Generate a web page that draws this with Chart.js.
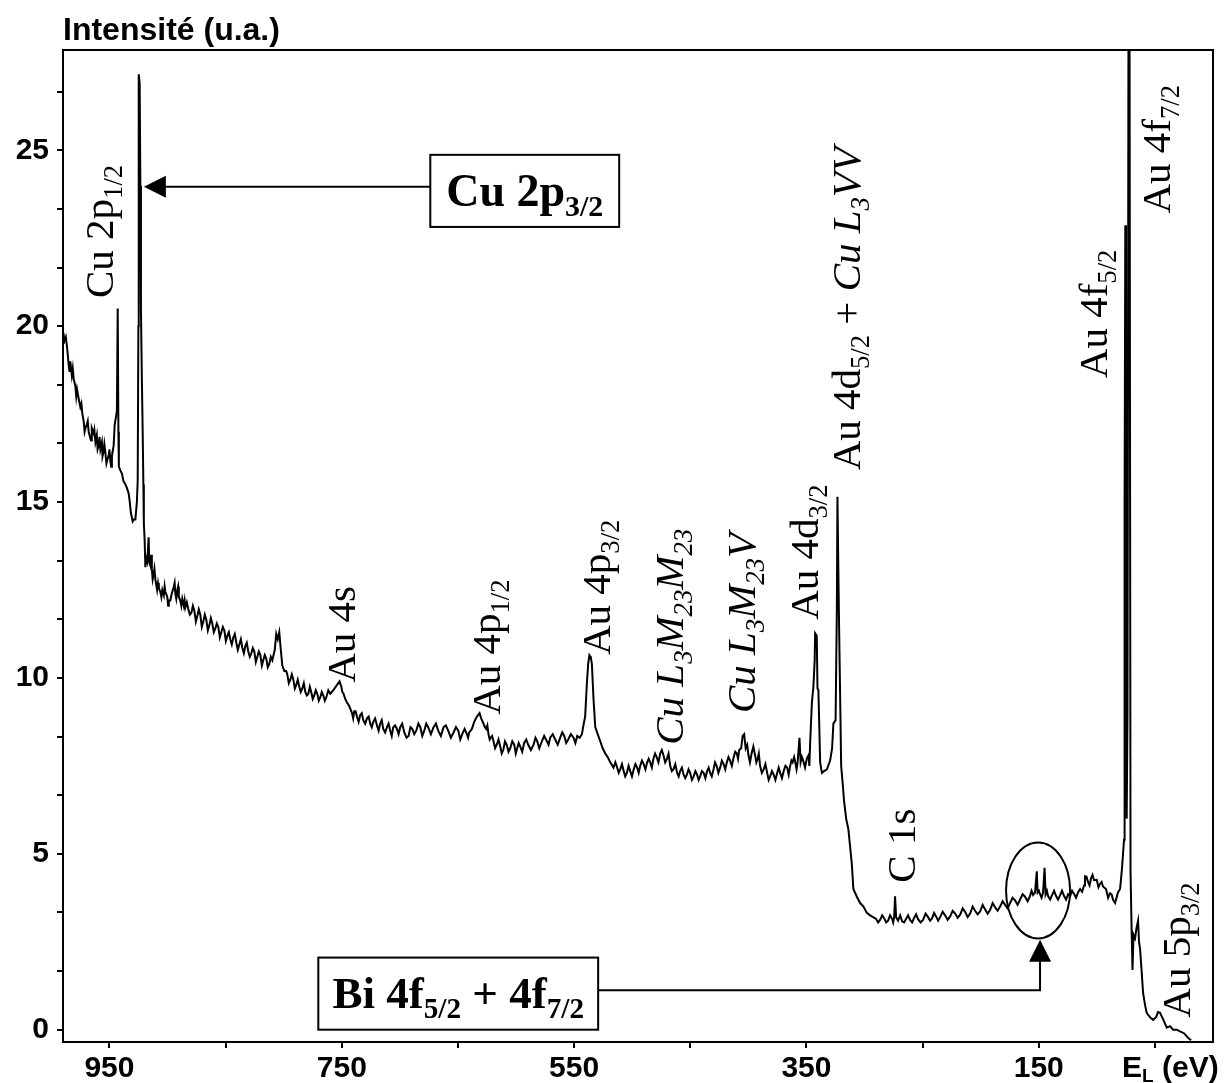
<!DOCTYPE html>
<html>
<head>
<meta charset="utf-8">
<script src="https://cdn.jsdelivr.net/npm/chart.js@4.4.1/dist/chart.umd.min.js"></script>
<style>
  html, body { margin: 0; padding: 0; background: #fff; }
  canvas { display: block; }
</style>
</head>
<body>
<canvas id="xps" width="1224" height="1083"></canvas>
<script>
// spectre XPS : énergie de liaison (eV) / intensité (u.a.)
const energies = [
  990.0, 988.8, 986.5, 985.1, 983.7, 982.4, 980.8, 979.4, 977.9, 976.3,
  975.1, 973.3, 972.2, 970.7, 969.5, 967.9, 966.4, 965.2, 963.6, 962.1,
  960.9, 959.3, 957.8, 956.5, 955.3, 953.5, 951.8, 950.5, 949.2, 947.9,
  946.4, 945.5, 944.5, 943.6, 942.9, 942.3, 941.9, 940.6, 939.2, 938.0,
  936.3, 935.0, 933.5, 932.5, 931.6, 930.0, 929.0, 927.7, 926.4, 925.7,
  925.1, 924.8, 924.0, 923.4, 922.9, 922.1, 921.4, 920.8, 920.4, 919.7,
  919.1, 918.3, 917.4, 916.3, 915.7, 914.8, 913.5, 912.2, 910.5, 909.0,
  907.5, 906.2, 904.5, 903.2, 901.9, 900.2, 898.9, 897.6, 895.9, 894.6,
  893.3, 891.6, 890.3, 889.0, 887.3, 886.0, 884.7,
  882.1, 879.5, 876.9, 874.4, 871.8, 869.2, 866.6, 864.0, 861.5, 858.9,
  856.3, 853.7, 851.1, 848.5, 846.0, 843.4, 840.8, 838.2, 835.6, 833.1,
  830.5, 827.9, 825.3, 822.7, 820.1, 817.6, 815.0, 812.4, 809.8, 807.7,
  806.4, 805.1, 803.8, 802.5, 801.2, 799.5, 796.9, 794.3, 791.7, 789.2,
  786.6, 784.0, 781.4, 778.8, 776.3, 773.7, 771.1, 768.5, 765.9, 763.3,
  759.9, 757.3, 754.1, 751.9, 750.4, 748.5, 745.5, 743.6, 741.2, 739.3,
  736.9, 734.1, 731.5, 728.3, 725.5, 722.9, 719.7, 716.9, 714.3, 711.1,
  708.3, 705.7, 702.5, 699.7, 696.2, 692.5, 689.3, 685.9, 682.4, 679.0,
  675.6, 671.0, 667.0, 662.4, 658.4, 653.8, 649.7, 646.3, 642.3, 640.3,
  638.0, 636.0, 633.7, 631.4, 630.0, 628.0, 625.7, 623.7, 621.8, 619.4,
  616.6, 613.6, 611.0, 608.0, 605.0, 601.5, 599.0, 596.4, 593.0, 589.5,
  584.9, 581.8, 578.3, 573.4, 570.6, 566.3, 562.0, 558.5, 555.1, 550.5,
  547.3, 545.2, 543.3, 541.7, 540.5, 539.0, 537.9, 536.8, 535.7, 534.7,
  533.3, 531.8, 529.7, 527.5, 525.4, 523.2, 521.1, 518.9, 516.1, 512.9,
  510.3, 507.3, 504.6, 501.7, 498.7, 495.7, 493.1, 490.1, 487.1, 484.5,
  481.7, 478.9, 475.9, 473.1, 470.1, 467.3, 464.5, 461.3, 458.7, 455.7,
  452.9, 450.1, 447.1, 444.1, 441.5, 438.5, 435.5, 432.9, 430.0, 427.3,
  424.3, 421.3, 418.5, 415.7, 412.6, 409.9, 407.9, 406.2, 404.9, 403.6,
  402.3, 399.9, 397.2, 394.2, 392.0, 389.9, 386.8, 383.8, 381.2, 378.2,
  375.2, 372.6, 369.6, 366.6, 364.0, 361.9, 360.6, 359.3, 357.6, 356.0,
  355.0, 352.8, 349.7, 346.8, 345.3, 344.0, 342.9, 342.5, 341.1, 340.5,
  339.7, 338.2, 336.7, 334.8, 332.4, 329.6, 327.9, 326.8, 324.9, 323.8,
  323.3, 322.5, 321.9, 321.0, 320.1, 318.8, 317.6, 315.8, 313.9, 312.4,
  310.9, 309.6, 306.6, 303.8, 300.9, 298.0, 295.2, 292.6, 290.0, 286.6,
  283.1, 279.7, 276.2, 274.5, 273.7, 272.8, 271.1, 267.6, 264.2, 260.8,
  257.3, 253.9, 249.6, 245.3, 241.8, 238.4, 234.9, 230.6, 226.3, 222.0,
  217.7, 213.4, 209.1, 204.8, 200.5, 196.2, 191.9, 187.6, 183.3, 179.0,
  174.7, 170.4, 166.1, 161.8, 157.5, 154.9, 153.2, 151.7, 151.0, 148.9,
  146.3, 145.0, 144.1, 142.0, 138.5, 135.1, 131.7, 128.2, 124.8, 123.1,
  119.6, 116.2, 112.7, 111.0, 110.2, 107.6, 105.0, 102.4, 100.1, 97.2,
  94.7, 92.1, 88.6, 86.1, 84.3, 81.8, 80.0, 78.3, 76.6, 76.1,
  75.5, 74.9, 74.3, 73.6, 72.7, 71.9, 71.0, 70.1, 69.3, 68.4,
  67.1, 65.8, 64.5, 63.7, 62.8, 61.5, 60.2, 58.5, 57.1, 54.2,
  51.6, 49.1, 47.3, 45.6, 43.0, 39.8, 37.0, 34.4, 31.2, 28.4,
  25.0, 21.5, 18.9
];
const intensities = [
  19.8, 19.6, 19.4, 18.9, 19.0, 18.6, 18.5, 18.3, 18.2, 17.9,
  17.7, 17.5, 17.3, 17.1, 17.2, 17.0, 16.8, 17.1, 16.95, 16.7,
  16.9, 16.6, 16.5, 16.7, 16.4, 16.4, 16.2, 16.35, 16.15, 16.3,
  16.6, 17.2, 17.4, 17.6, 20.5, 17.0, 16.0, 15.9, 15.8, 15.6,
  15.5, 15.4, 15.25, 15.0, 14.7, 14.45, 14.5, 14.5, 15.0, 15.6,
  20.0, 27.16, 26.9, 24.0, 20.5, 18.5, 17.0, 15.5, 14.4, 13.9,
  13.15, 13.4, 13.3, 14.0, 13.3, 13.2, 13.1, 12.9, 12.8, 12.5,
  12.55, 12.45, 12.5, 12.35, 12.45, 12.3, 12.2, 12.2, 12.45, 12.6,
  12.4, 12.5, 12.3, 12.2, 12.25, 12.05, 12.0,
  11.95, 11.85, 11.9, 11.75, 11.8, 11.6, 11.65, 11.5, 11.55, 11.4,
  11.45, 11.3, 11.35, 11.2, 11.1, 11.15, 11.0, 10.95, 10.85, 10.9,
  10.75, 10.7, 10.75, 10.6, 10.65, 10.5, 10.55, 10.4, 10.5, 10.8,
  11.25, 11.1, 11.3, 10.8, 10.35, 10.2, 10.1, 9.95, 9.95, 9.8,
  9.75, 9.7, 9.6, 9.55, 9.6, 9.5, 9.55, 9.45, 9.5, 9.45,
  9.55, 9.65, 9.8, 9.9, 9.75, 9.55, 9.3, 9.2, 9.0, 9.05,
  8.9, 8.95, 8.8, 8.85, 8.7, 8.75, 8.65, 8.7, 8.55, 8.6,
  8.5, 8.6, 8.55, 8.6, 8.45, 8.35, 8.55, 8.5, 8.6, 8.5,
  8.6, 8.6, 8.5, 8.6, 8.5, 8.45, 8.5, 8.4, 8.4, 8.45,
  8.55, 8.75, 8.9, 9.0, 8.85, 8.7, 8.55, 8.4, 8.3, 8.2,
  8.1, 8.05, 7.95, 8.1, 8.0, 8.1, 8.0, 8.05, 8.15, 8.1,
  8.1, 8.2, 8.15, 8.2, 8.3, 8.25, 8.3, 8.35, 8.25, 8.3,
  8.35, 8.3, 8.4, 8.7, 8.9, 9.85, 10.4, 10.65, 10.6, 10.4,
  9.4, 8.6, 8.4, 8.2, 8.0, 7.85, 7.75, 7.6, 7.45, 7.45,
  7.4, 7.35, 7.3, 7.35, 7.4, 7.45, 7.5, 7.55, 7.6, 7.6,
  7.7, 7.75, 7.85, 7.8, 7.7, 7.5, 7.4, 7.3, 7.35, 7.25,
  7.25, 7.3, 7.2, 7.25, 7.2, 7.3, 7.35, 7.3, 7.4, 7.5,
  7.45, 7.55, 7.6, 7.65, 7.75, 7.85, 7.95, 8.0, 8.35, 8.4,
  8.0, 7.8, 7.85, 7.8, 7.7, 7.5, 7.4, 7.3, 7.2, 7.25,
  7.3, 7.3, 7.35, 7.45, 7.5, 7.6, 7.75, 7.55, 7.6, 8.3,
  7.6, 7.65, 7.7, 8.15, 9.3, 9.75, 10.5, 11.27, 11.2, 9.7,
  9.66, 7.6, 7.3, 7.35, 7.4, 7.65, 8.0, 8.7, 8.8, 12.0,
  15.15, 13.0, 11.5, 9.5, 7.5, 7.0, 6.5, 6.0, 5.7, 5.2,
  4.7, 4.0, 3.78, 3.6, 3.5, 3.32, 3.25, 3.2, 3.15, 3.12,
  3.17, 3.1, 3.15, 3.2, 3.79, 3.2, 3.1, 3.08, 3.15, 3.12,
  3.18, 3.14, 3.12, 3.2, 3.17, 3.22, 3.2, 3.25, 3.22, 3.3,
  3.27, 3.35, 3.3, 3.38, 3.36, 3.42, 3.4, 3.48, 3.5, 3.55,
  3.6, 3.68, 3.7, 3.78, 3.8, 3.83, 3.9, 4.5, 3.9, 3.85,
  3.9, 4.6, 3.85, 3.8, 3.83, 3.8, 3.82, 3.8, 3.85, 3.79,
  3.86, 3.9, 3.92, 4.1, 4.36, 4.2, 4.3, 4.25, 4.26, 4.15,
  4.07, 4.0, 3.88, 3.7, 3.6, 3.9, 4.0, 4.6, 5.4, 15,
  22.87, 10, 6, 9, 30, 30, 4.5, 2.9, 1.7, 2.7,
  2.6, 2.9, 3.1, 2.5, 2.3, 1.7, 1.05, 0.7, 0.48, 0.35,
  0.28, 0.35, 0.5, 0.48, 0.3, 0.06, 0.1, 0.0, 0.0, -0.05,
  -0.1, -0.23, -0.3
];

// lectures du bruit (petites pointes de part et d'autre de la trace)
const noiseEnergies = [
  989.4, 987.6, 984.4, 981.6, 978.6, 974.2, 971.4, 968.7, 965.8, 963.0,
  960.2, 958.5, 956.0, 954.4, 952.6, 950.0, 948.5, 947.2,
  914.0, 912.8, 911.3, 908.2, 905.3, 902.5, 899.5, 896.7, 893.9, 892.5,
  890.9, 888.1, 885.3,
  883.4, 880.8, 878.2, 875.6, 873.1, 870.5, 867.9, 865.3, 862.7, 860.2,
  857.6, 855.0, 852.4, 849.8, 847.2, 844.7, 842.1, 839.5, 836.9, 834.3,
  831.8, 829.2, 826.6, 824.0, 821.4, 818.8, 816.3, 813.7, 811.1,
  797.9, 795.6, 793.0, 790.4, 787.9, 785.3, 782.7, 780.1, 777.5, 775.0,
  772.4, 769.8, 767.2, 764.6, 761.6,
  749.5, 747.0, 742.4, 740.2, 738.1, 735.5, 732.8, 729.9, 726.9, 724.2,
  721.3, 718.3, 715.6, 712.7, 709.7, 707.0, 704.1, 701.1, 698.0, 694.3,
  690.9, 687.6, 684.1, 680.7, 677.3, 673.3, 669.0, 664.7, 660.4, 656.1,
  651.7, 648.0, 644.3, 641.3, 626.8, 624.7, 622.7, 620.6, 618.0, 615.1,
  612.3, 609.5, 606.5, 603.2, 600.2, 597.7, 594.7, 591.2, 587.2, 583.3,
  580.0, 575.8, 572.0, 568.4, 564.1, 560.2, 556.8, 552.8, 548.9,
  514.5, 511.6, 508.8, 506.0, 503.1, 500.2, 497.2, 494.4, 491.6, 488.6,
  485.8, 483.1, 480.3, 477.4, 474.5, 471.6, 468.7, 465.9, 462.9, 460.0,
  457.2, 454.3, 451.5, 448.6, 445.6, 442.8, 440.0, 437.0, 434.2, 431.5,
  428.7, 425.8, 422.8, 419.9, 417.1, 414.2, 411.3, 408.9, 401.0, 398.6,
  395.7, 393.1, 391.0, 388.4, 385.3, 382.5, 379.7, 376.7, 373.9, 371.1,
  368.1, 365.3, 362.9, 358.5, 353.9, 351.2, 348.2, 347.5,
  288.3, 284.8, 281.4, 278.0, 275.3, 269.3, 265.9, 262.5, 259.0, 255.6,
  251.7, 247.4, 243.5, 240.1, 236.6, 232.7, 228.4, 224.1, 219.8, 215.5,
  211.2, 206.9, 202.6, 198.3, 194.0, 189.7, 185.4, 181.1, 176.8, 172.5,
  168.2, 163.9, 159.6, 156.2, 149.9, 147.6, 143.0, 140.2, 136.8, 133.4,
  130.0, 126.5, 121.3, 117.9, 114.4, 108.9, 106.3, 103.7, 98.6, 95.9,
  90.3, 87.3
];
const noiseIntensities = [
  19.5, 19.7, 18.7, 18.8, 18.0, 17.8, 17.0, 17.3, 16.75, 17.05,
  16.5, 16.85, 16.3, 16.65, 16.1, 16.5, 16.0, 16.45,
  13.5, 12.8, 13.1, 12.7, 12.3, 12.6, 12.05, 12.35, 12.7, 12.25,
  12.6, 12.05, 12.2,
  12.15, 11.8, 12.05, 11.6, 11.95, 11.45, 11.8, 11.35, 11.7, 11.3,
  11.55, 11.15, 11.45, 11.05, 11.3, 10.95, 11.25, 10.8, 11.1, 10.7,
  11.0, 10.6, 10.85, 10.45, 10.75, 10.35, 10.65, 10.3, 10.6,
  10.2, 9.85, 10.1, 9.7, 9.95, 9.6, 9.85, 9.5, 9.75, 9.4,
  9.65, 9.35, 9.6, 9.35, 9.65,
  9.6, 9.4, 9.1, 8.85, 9.05, 8.75, 9.0, 8.7, 8.9, 8.6,
  8.85, 8.5, 8.8, 8.45, 8.7, 8.35, 8.65, 8.4, 8.7, 8.3,
  8.6, 8.4, 8.7, 8.35, 8.7, 8.4, 8.7, 8.35, 8.65, 8.3,
  8.6, 8.25, 8.55, 8.3, 8.6, 8.65, 8.25, 8.35, 8.0, 8.25,
  7.85, 8.2, 7.9, 8.2, 7.85, 8.15, 7.9, 8.25, 7.95, 8.3,
  8.0, 8.35, 8.1, 8.4, 8.1, 8.45, 8.15, 8.4, 8.15,
  7.6, 7.3, 7.55, 7.2, 7.5, 7.2, 7.55, 7.3, 7.65, 7.4,
  7.7, 7.45, 7.85, 7.6, 7.95, 7.6, 7.85, 7.35, 7.55, 7.2,
  7.45, 7.15, 7.4, 7.1, 7.35, 7.1, 7.35, 7.15, 7.45, 7.2,
  7.6, 7.3, 7.65, 7.4, 7.75, 7.5, 7.9, 7.7, 8.1, 7.6,
  8.05, 7.6, 7.85, 7.3, 7.55, 7.1, 7.35, 7.1, 7.45, 7.15,
  7.5, 7.25, 7.65, 7.4, 7.75, 7.45, 7.8, 7.5,
  3.05, 3.25, 3.05, 3.25, 3.05, 3.25, 3.05, 3.25, 3.05, 3.28,
  3.05, 3.3, 3.1, 3.32, 3.1, 3.35, 3.12, 3.38, 3.18, 3.45,
  3.2, 3.5, 3.28, 3.55, 3.3, 3.6, 3.38, 3.65, 3.45, 3.75,
  3.55, 3.85, 3.65, 3.95, 3.95, 3.75, 3.95, 3.7, 3.95, 3.7,
  3.95, 3.7, 3.95, 3.75, 4.0, 4.35, 4.1, 4.4, 4.05, 4.2,
  3.75, 3.85
];

// graduations
const xTickValues = [950, 850, 750, 650, 550, 450, 350, 250, 150, 50];
const xTickLabels = ['950', '', '750', '', '550', '', '350', '', '150', ''];
const yTickValues = [0, 1.667, 3.333, 5, 6.667, 8.333, 10, 11.667, 13.333, 15,
  16.667, 18.333, 20, 21.667, 23.333, 25, 26.667];
const yTickLabels = ['0', '', '', '5', '', '', '10', '', '', '15', '', '', '20', '', '', '25', ''];

// étiquettes des pics (texte vertical), ancrées en (eV, intensité)
const peakLabels = [
  'Cu 2p_{1/2}', 'Au 4s', 'Au 4p_{1/2}', 'Au 4p_{3/2}',
  '*Cu L_{3}M_{23}M_{23}*', '*Cu L_{3}M_{23}V*', 'Au 4d_{3/2}',
  'Au 4d_{5/2} + *Cu L_{3}VV*', 'C 1s', 'Au 4f_{5/2}', 'Au 4f_{7/2}', 'Au 5p_{3/2}'
];
const peakLabelAt = [
  [946.7, 20.8], [738.4, 9.86], [613.6, 8.95], [518.9, 10.65],
  [456.1, 8.1], [394.2, 9.0], [339.9, 11.65],
  [303.8, 15.9], [256.4, 4.18], [91.2, 18.52], [37.0, 23.2], [19.8, 0.34]
];

const serif = '"Liberation Serif", "Times New Roman", serif';
const sans = '"Liberation Sans", Arial, sans-serif';

// petit balisage : _{..} = indice, *..* = italique
function parseRich(str) {
  const segs = [];
  let italic = false, buf = '', i = 0;
  const push = (t, sub) => { if (t) segs.push({ t: t, sub: sub, it: italic }); };
  while (i < str.length) {
    const c = str[i];
    if (c === '*') { push(buf, false); buf = ''; italic = !italic; i++; }
    else if (c === '_' && str[i + 1] === '{') {
      push(buf, false); buf = '';
      const j = str.indexOf('}', i);
      push(str.slice(i + 2, j), true);
      i = j + 1;
    } else { buf += c; i++; }
  }
  push(buf, false);
  return segs;
}

function setFont(ctx, seg, size, bold) {
  const fs = seg.sub ? size * 0.65 : size;
  ctx.font = (seg.it ? 'italic ' : '') + (bold ? 'bold ' : '') + fs + 'px ' + serif;
}

function richWidth(ctx, segs, size, bold) {
  let w = 0;
  segs.forEach(s => { setFont(ctx, s, size, bold); w += ctx.measureText(s.t).width; });
  return w;
}

function drawRich(ctx, segs, x, y, size, bold) {
  ctx.textAlign = 'left';
  ctx.textBaseline = 'alphabetic';
  segs.forEach(s => {
    setFont(ctx, s, size, bold);
    ctx.fillText(s.t, x, s.sub ? y + size * 0.22 : y);
    x += ctx.measureText(s.t).width;
  });
}

function arrowHead(ctx, tx, ty, dir) {
  // dir: 'left' ou 'up'
  ctx.beginPath();
  if (dir === 'left') {
    ctx.moveTo(tx, ty); ctx.lineTo(tx + 22, ty - 11); ctx.lineTo(tx + 22, ty + 11);
  } else {
    ctx.moveTo(tx, ty); ctx.lineTo(tx - 11, ty + 22); ctx.lineTo(tx + 11, ty + 22);
  }
  ctx.closePath();
  ctx.fill();
}

const annotations = {
  id: 'annotations',
  afterDraw(chart) {
    const ctx = chart.ctx;
    const xs = chart.scales.x, ys = chart.scales.y;
    const a = chart.chartArea;
    ctx.save();
    ctx.fillStyle = '#000';
    ctx.strokeStyle = '#000';

    // cadre complet
    ctx.lineWidth = 2;
    ctx.strokeRect(a.left, a.top, a.right - a.left, a.bottom - a.top);

    // titre axe Y
    ctx.font = 'bold 32px ' + sans;
    ctx.textAlign = 'left';
    ctx.textBaseline = 'alphabetic';
    ctx.fillText('Intensité (u.a.)', a.left, 40);

    // E_L (eV) au bout de l'axe X
    const ly = xs.top + 9 + 18;
    ctx.textBaseline = 'middle';
    ctx.font = 'bold 30px ' + sans;
    let ex = 1122;
    ctx.fillText('E', ex, ly);
    ex += ctx.measureText('E').width;
    ctx.font = 'bold 19px ' + sans;
    ctx.fillText('L', ex, ly + 8);
    ex += ctx.measureText('L').width;
    ctx.font = 'bold 30px ' + sans;
    ctx.fillText(' (eV)', ex, ly);

    // étiquettes verticales
    peakLabels.forEach((txt, i) => {
      const px = xs.getPixelForValue(peakLabelAt[i][0]);
      const py = ys.getPixelForValue(peakLabelAt[i][1]);
      ctx.save();
      ctx.translate(px, py);
      ctx.rotate(-Math.PI / 2);
      drawRich(ctx, parseRich(txt), 0, 0, 41, false);
      ctx.restore();
    });

    // encadré Cu 2p3/2 + flèche
    ctx.lineWidth = 2;
    const b1 = { l: xs.getPixelForValue(673.8), r: xs.getPixelForValue(511.2),
                 t: ys.getPixelForValue(24.87), b: ys.getPixelForValue(22.82) };
    ctx.strokeRect(b1.l, b1.t, b1.r - b1.l, b1.b - b1.t);
    let segs = parseRich('Cu 2p_{3/2}');
    let w = richWidth(ctx, segs, 46, true);
    drawRich(ctx, segs, (b1.l + b1.r) / 2 - w / 2, (b1.t + b1.b) / 2 + 15, 46, true);
    const ay = ys.getPixelForValue(23.96);
    const tipX = xs.getPixelForValue(920.4);
    ctx.beginPath();
    ctx.moveTo(b1.l, ay); ctx.lineTo(tipX + 20, ay); ctx.stroke();
    arrowHead(ctx, tipX, ay, 'left');

    // encadré Bi + flèche vers l'ellipse
    const b2 = { l: xs.getPixelForValue(770.2), r: xs.getPixelForValue(529.3),
                 t: ys.getPixelForValue(2.05), b: ys.getPixelForValue(0.0) };
    ctx.strokeRect(b2.l, b2.t, b2.r - b2.l, b2.b - b2.t);
    segs = parseRich('Bi 4f_{5/2} + 4f_{7/2}');
    w = richWidth(ctx, segs, 45, true);
    drawRich(ctx, segs, (b2.l + b2.r) / 2 - w / 2, (b2.t + b2.b) / 2 + 14, 45, true);
    const cy = ys.getPixelForValue(1.12);
    const vx = xs.getPixelForValue(148.9);
    const tipY = ys.getPixelForValue(2.56);
    ctx.beginPath();
    ctx.moveTo(b2.r, cy); ctx.lineTo(vx, cy); ctx.lineTo(vx, tipY + 20); ctx.stroke();
    arrowHead(ctx, vx, tipY, 'up');

    ctx.beginPath();
    ctx.ellipse(xs.getPixelForValue(150.6), ys.getPixelForValue(3.96), 32, 48, 0, 0, Math.PI * 2);
    ctx.stroke();

    ctx.restore();
  }
};

// trace + bruit réunis, triés par énergie décroissante
const points = energies.map((e, i) => ({ x: e, y: intensities[i] }))
  .concat(noiseEnergies.map((e, i) => ({ x: e, y: noiseIntensities[i] })))
  .sort((p, q) => q.x - p.x);

new Chart(document.getElementById('xps').getContext('2d'), {
  type: 'line',
  data: {
    datasets: [{
      data: points,
      borderColor: '#000',
      borderWidth: 2,
      pointRadius: 0,
      tension: 0,
      fill: false
    }]
  },
  options: {
    responsive: false,
    animation: false,
    layout: { padding: { top: 50, right: 11, left: 0, bottom: 0 } },
    plugins: { legend: { display: false }, tooltip: { enabled: false } },
    scales: {
      x: {
        type: 'linear',
        reverse: true,
        min: 0,
        max: 990,
        afterBuildTicks: s => { s.ticks = xTickValues.map(v => ({ value: v })); },
        afterFit: s => { s.height = 41; },
        ticks: {
          autoSkip: false,
          maxRotation: 0,
          padding: 3,
          color: '#000',
          font: { family: sans, weight: 'bold', size: 30 },
          callback: v => { const i = xTickValues.indexOf(v); return i >= 0 ? xTickLabels[i] : ''; }
        },
        grid: { drawOnChartArea: false, drawTicks: true, tickLength: 6, color: '#000', lineWidth: 2 },
        border: { color: '#000', width: 2 }
      },
      y: {
        min: -0.35,
        max: 27.85,
        afterBuildTicks: s => { s.ticks = yTickValues.map(v => ({ value: v })); },
        afterFit: s => { s.width = 63; },
        ticks: {
          padding: 8,
          color: '#000',
          font: { family: sans, weight: 'bold', size: 30 },
          callback: v => { const i = yTickValues.indexOf(v); return i >= 0 ? yTickLabels[i] : ''; }
        },
        grid: { drawOnChartArea: false, drawTicks: true, tickLength: 6, color: '#000', lineWidth: 2 },
        border: { color: '#000', width: 2 }
      }
    }
  },
  plugins: [annotations]
});
</script>
</body>
</html>
